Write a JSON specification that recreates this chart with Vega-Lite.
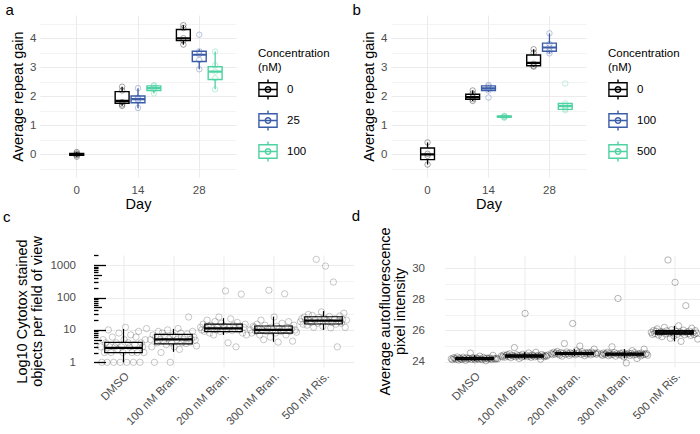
{
"$schema":"https://vega.github.io/schema/vega-lite/v6.json",
"padding":{"left":2,"top":3,"right":0,"bottom":0},
"config":{
 "font":"Liberation Sans",
 "view":{"stroke":null},
 "axis":{"domain":false,"ticks":false,"grid":true,"gridColor":"#EBEBEB","labelColor":"#4D4D4D","labelFontSize":11.5,"titleFontSize":14.5,"titleFontWeight":"normal","titleColor":"#000000","labelPadding":4,"titlePadding":4},
 "title":{"fontSize":15,"fontWeight":"normal","anchor":"start","frame":"bounds","color":"#000000"},
 "legend":{"titleFontWeight":"normal"}
},
"datasets":{
 "boxA":[
  {"Day":0,"Concentration":0,"lo":-0.08,"q1":-0.03,"med":0,"q3":0.03,"hi":0.08},
  {"Day":14,"Concentration":0,"lo":1.67,"q1":1.76,"med":1.84,"q3":2.16,"hi":2.33},
  {"Day":14,"Concentration":25,"lo":1.59,"q1":1.78,"med":1.9,"q3":2.01,"hi":2.28},
  {"Day":14,"Concentration":100,"lo":2.1,"q1":2.2,"med":2.28,"q3":2.36,"hi":2.39},
  {"Day":28,"Concentration":0,"lo":3.78,"q1":3.92,"med":4.0,"q3":4.3,"hi":4.45},
  {"Day":28,"Concentration":25,"lo":2.93,"q1":3.2,"med":3.43,"q3":3.55,"hi":3.62},
  {"Day":28,"Concentration":100,"lo":2.24,"q1":2.58,"med":2.85,"q3":3.02,"hi":3.54}
 ],
 "ptsA":[
  {"Day":0,"Concentration":0,"gain":-0.08},{"Day":0,"Concentration":0,"gain":-0.03},{"Day":0,"Concentration":0,"gain":0.0},{"Day":0,"Concentration":0,"gain":0.03},{"Day":0,"Concentration":0,"gain":0.08},
  {"Day":14,"Concentration":0,"gain":1.67},{"Day":14,"Concentration":0,"gain":1.72},{"Day":14,"Concentration":0,"gain":1.8},{"Day":14,"Concentration":0,"gain":2.2},{"Day":14,"Concentration":0,"gain":2.33},
  {"Day":14,"Concentration":25,"gain":1.6},{"Day":14,"Concentration":25,"gain":1.85},{"Day":14,"Concentration":25,"gain":1.9},{"Day":14,"Concentration":25,"gain":1.95},{"Day":14,"Concentration":25,"gain":2.28},
  {"Day":14,"Concentration":100,"gain":2.1},{"Day":14,"Concentration":100,"gain":2.25},{"Day":14,"Concentration":100,"gain":2.3},{"Day":14,"Concentration":100,"gain":2.36},{"Day":14,"Concentration":100,"gain":2.38},
  {"Day":28,"Concentration":0,"gain":3.78},{"Day":28,"Concentration":0,"gain":3.92},{"Day":28,"Concentration":0,"gain":4.0},{"Day":28,"Concentration":0,"gain":4.35},{"Day":28,"Concentration":0,"gain":4.45},
  {"Day":28,"Concentration":25,"gain":2.93},{"Day":28,"Concentration":25,"gain":3.25},{"Day":28,"Concentration":25,"gain":3.45},{"Day":28,"Concentration":25,"gain":3.55},{"Day":28,"Concentration":25,"gain":4.12},
  {"Day":28,"Concentration":100,"gain":2.24},{"Day":28,"Concentration":100,"gain":2.62},{"Day":28,"Concentration":100,"gain":2.85},{"Day":28,"Concentration":100,"gain":3.07},{"Day":28,"Concentration":100,"gain":3.54}
 ],
 "boxB":[
  {"Day":0,"Concentration":0,"lo":-0.35,"q1":-0.18,"med":0,"q3":0.22,"hi":0.41},
  {"Day":14,"Concentration":0,"lo":1.84,"q1":1.9,"med":1.97,"q3":2.07,"hi":2.2},
  {"Day":14,"Concentration":100,"lo":2.15,"q1":2.2,"med":2.27,"q3":2.36,"hi":2.39},
  {"Day":14,"Concentration":500,"lo":1.26,"q1":1.28,"med":1.3,"q3":1.32,"hi":1.34},
  {"Day":28,"Concentration":0,"lo":3.02,"q1":3.05,"med":3.15,"q3":3.42,"hi":3.62},
  {"Day":28,"Concentration":100,"lo":3.48,"q1":3.55,"med":3.68,"q3":3.83,"hi":4.17},
  {"Day":28,"Concentration":500,"lo":1.52,"q1":1.55,"med":1.66,"q3":1.75,"hi":1.78}
 ],
 "ptsB":[
  {"Day":0,"Concentration":0,"gain":-0.35},{"Day":0,"Concentration":0,"gain":-0.05},{"Day":0,"Concentration":0,"gain":0.02},{"Day":0,"Concentration":0,"gain":0.41},
  {"Day":14,"Concentration":0,"gain":1.84},{"Day":14,"Concentration":0,"gain":1.9},{"Day":14,"Concentration":0,"gain":1.97},{"Day":14,"Concentration":0,"gain":2.1},{"Day":14,"Concentration":0,"gain":2.2},
  {"Day":14,"Concentration":100,"gain":1.96},{"Day":14,"Concentration":100,"gain":2.2},{"Day":14,"Concentration":100,"gain":2.27},{"Day":14,"Concentration":100,"gain":2.34},{"Day":14,"Concentration":100,"gain":2.39},
  {"Day":14,"Concentration":500,"gain":1.26},{"Day":14,"Concentration":500,"gain":1.28},{"Day":14,"Concentration":500,"gain":1.3},{"Day":14,"Concentration":500,"gain":1.31},{"Day":14,"Concentration":500,"gain":1.33},
  {"Day":28,"Concentration":0,"gain":3.02},{"Day":28,"Concentration":0,"gain":3.05},{"Day":28,"Concentration":0,"gain":3.12},{"Day":28,"Concentration":0,"gain":3.5},{"Day":28,"Concentration":0,"gain":3.62},
  {"Day":28,"Concentration":100,"gain":3.48},{"Day":28,"Concentration":100,"gain":3.56},{"Day":28,"Concentration":100,"gain":3.68},{"Day":28,"Concentration":100,"gain":3.8},{"Day":28,"Concentration":100,"gain":4.17},
  {"Day":28,"Concentration":500,"gain":1.52},{"Day":28,"Concentration":500,"gain":1.57},{"Day":28,"Concentration":500,"gain":1.66},{"Day":28,"Concentration":500,"gain":1.75},{"Day":28,"Concentration":500,"gain":2.44}
 ],
 "boxC":[
  {"group":"DMSO","lo":1,"q1":2.0,"med":2.8,"q3":4.1,"hi":10.7},
  {"group":"100 nM Bran.","lo":2.1,"q1":3.7,"med":5.1,"q3":7.3,"hi":10.7},
  {"group":"200 nM Bran.","lo":7,"q1":8.8,"med":11.2,"q3":15,"hi":23},
  {"group":"300 nM Bran.","lo":4.3,"q1":7.9,"med":10,"q3":13.2,"hi":25.6},
  {"group":"500 nM Ris.","lo":10,"q1":15.2,"med":19.2,"q3":25.5,"hi":38}
 ],
 "ptsC":[
  {"group":"DMSO","count":3},{"group":"DMSO","count":1},{"group":"DMSO","count":5},{"group":"DMSO","count":2},{"group":"DMSO","count":4},{"group":"DMSO","count":1},{"group":"DMSO","count":10},{"group":"DMSO","count":3},{"group":"DMSO","count":2},{"group":"DMSO","count":6},{"group":"DMSO","count":1},{"group":"DMSO","count":3},{"group":"DMSO","count":4},{"group":"DMSO","count":2.5},{"group":"DMSO","count":8},{"group":"DMSO","count":1},{"group":"DMSO","count":3},{"group":"DMSO","count":2},{"group":"DMSO","count":5},{"group":"DMSO","count":12},{"group":"DMSO","count":1},{"group":"DMSO","count":4},{"group":"DMSO","count":3},{"group":"DMSO","count":7},{"group":"DMSO","count":2},{"group":"DMSO","count":1},{"group":"DMSO","count":3.5},{"group":"DMSO","count":6},{"group":"DMSO","count":2},{"group":"DMSO","count":9},{"group":"DMSO","count":1},{"group":"DMSO","count":4},{"group":"DMSO","count":3},{"group":"DMSO","count":2},{"group":"DMSO","count":5},{"group":"DMSO","count":11},
  {"group":"100 nM Bran.","count":5},{"group":"100 nM Bran.","count":3},{"group":"100 nM Bran.","count":7},{"group":"100 nM Bran.","count":1},{"group":"100 nM Bran.","count":6},{"group":"100 nM Bran.","count":4},{"group":"100 nM Bran.","count":9},{"group":"100 nM Bran.","count":5},{"group":"100 nM Bran.","count":2},{"group":"100 nM Bran.","count":8},{"group":"100 nM Bran.","count":4.5},{"group":"100 nM Bran.","count":6.5},{"group":"100 nM Bran.","count":3.5},{"group":"100 nM Bran.","count":10},{"group":"100 nM Bran.","count":5.5},{"group":"100 nM Bran.","count":1},{"group":"100 nM Bran.","count":4},{"group":"100 nM Bran.","count":7},{"group":"100 nM Bran.","count":3},{"group":"100 nM Bran.","count":6},{"group":"100 nM Bran.","count":5},{"group":"100 nM Bran.","count":11},{"group":"100 nM Bran.","count":2.5},{"group":"100 nM Bran.","count":8},{"group":"100 nM Bran.","count":4},{"group":"100 nM Bran.","count":5},{"group":"100 nM Bran.","count":6},{"group":"100 nM Bran.","count":3.8},{"group":"100 nM Bran.","count":7.5},{"group":"100 nM Bran.","count":25},{"group":"100 nM Bran.","count":4.2},{"group":"100 nM Bran.","count":5.2},{"group":"100 nM Bran.","count":9},{"group":"100 nM Bran.","count":6},{"group":"100 nM Bran.","count":4.8},{"group":"100 nM Bran.","count":3.2},
  {"group":"200 nM Bran.","count":12},{"group":"200 nM Bran.","count":10},{"group":"200 nM Bran.","count":15},{"group":"200 nM Bran.","count":9},{"group":"200 nM Bran.","count":11},{"group":"200 nM Bran.","count":20},{"group":"200 nM Bran.","count":13},{"group":"200 nM Bran.","count":8},{"group":"200 nM Bran.","count":14},{"group":"200 nM Bran.","count":11},{"group":"200 nM Bran.","count":7},{"group":"200 nM Bran.","count":18},{"group":"200 nM Bran.","count":10},{"group":"200 nM Bran.","count":12},{"group":"200 nM Bran.","count":25},{"group":"200 nM Bran.","count":9},{"group":"200 nM Bran.","count":16},{"group":"200 nM Bran.","count":11},{"group":"200 nM Bran.","count":13},{"group":"200 nM Bran.","count":160},{"group":"200 nM Bran.","count":10},{"group":"200 nM Bran.","count":4},{"group":"200 nM Bran.","count":12},{"group":"200 nM Bran.","count":22},{"group":"200 nM Bran.","count":9.5},{"group":"200 nM Bran.","count":14},{"group":"200 nM Bran.","count":11},{"group":"200 nM Bran.","count":3},{"group":"200 nM Bran.","count":17},{"group":"200 nM Bran.","count":10},{"group":"200 nM Bran.","count":13},{"group":"200 nM Bran.","count":127},{"group":"200 nM Bran.","count":8},{"group":"200 nM Bran.","count":12},{"group":"200 nM Bran.","count":15},{"group":"200 nM Bran.","count":7},
  {"group":"300 nM Bran.","count":10},{"group":"300 nM Bran.","count":8},{"group":"300 nM Bran.","count":13},{"group":"300 nM Bran.","count":12},{"group":"300 nM Bran.","count":9},{"group":"300 nM Bran.","count":15},{"group":"300 nM Bran.","count":11},{"group":"300 nM Bran.","count":7},{"group":"300 nM Bran.","count":20},{"group":"300 nM Bran.","count":10},{"group":"300 nM Bran.","count":5},{"group":"300 nM Bran.","count":14},{"group":"300 nM Bran.","count":9},{"group":"300 nM Bran.","count":11},{"group":"300 nM Bran.","count":168},{"group":"300 nM Bran.","count":6},{"group":"300 nM Bran.","count":12},{"group":"300 nM Bran.","count":10},{"group":"300 nM Bran.","count":25},{"group":"300 nM Bran.","count":8},{"group":"300 nM Bran.","count":13},{"group":"300 nM Bran.","count":4.2},{"group":"300 nM Bran.","count":11},{"group":"300 nM Bran.","count":9},{"group":"300 nM Bran.","count":16},{"group":"300 nM Bran.","count":10},{"group":"300 nM Bran.","count":130},{"group":"300 nM Bran.","count":7},{"group":"300 nM Bran.","count":12},{"group":"300 nM Bran.","count":18},{"group":"300 nM Bran.","count":9},{"group":"300 nM Bran.","count":11},{"group":"300 nM Bran.","count":4.5},{"group":"300 nM Bran.","count":14},{"group":"300 nM Bran.","count":10},{"group":"300 nM Bran.","count":8.5},
  {"group":"500 nM Ris.","count":18},{"group":"500 nM Ris.","count":22},{"group":"500 nM Ris.","count":15},{"group":"500 nM Ris.","count":25},{"group":"500 nM Ris.","count":20},{"group":"500 nM Ris.","count":14},{"group":"500 nM Ris.","count":30},{"group":"500 nM Ris.","count":19},{"group":"500 nM Ris.","count":17},{"group":"500 nM Ris.","count":28},{"group":"500 nM Ris.","count":12},{"group":"500 nM Ris.","count":21},{"group":"500 nM Ris.","count":1500},{"group":"500 nM Ris.","count":16},{"group":"500 nM Ris.","count":24},{"group":"500 nM Ris.","count":19},{"group":"500 nM Ris.","count":36},{"group":"500 nM Ris.","count":13},{"group":"500 nM Ris.","count":23},{"group":"500 nM Ris.","count":930},{"group":"500 nM Ris.","count":20},{"group":"500 nM Ris.","count":18},{"group":"500 nM Ris.","count":26},{"group":"500 nM Ris.","count":11.5},{"group":"500 nM Ris.","count":17},{"group":"500 nM Ris.","count":300},{"group":"500 nM Ris.","count":22},{"group":"500 nM Ris.","count":15},{"group":"500 nM Ris.","count":3},{"group":"500 nM Ris.","count":19},{"group":"500 nM Ris.","count":27},{"group":"500 nM Ris.","count":16},{"group":"500 nM Ris.","count":21},{"group":"500 nM Ris.","count":33},{"group":"500 nM Ris.","count":12},{"group":"500 nM Ris.","count":20}
 ],
 "boxD":[
  {"group":"DMSO","lo":24.05,"q1":24.13,"med":24.19,"q3":24.25,"hi":24.4},
  {"group":"100 nM Bran.","lo":24.15,"q1":24.29,"med":24.36,"q3":24.43,"hi":24.6},
  {"group":"200 nM Bran.","lo":24.35,"q1":24.46,"med":24.52,"q3":24.58,"hi":24.8},
  {"group":"300 nM Bran.","lo":24.2,"q1":24.41,"med":24.48,"q3":24.55,"hi":24.8},
  {"group":"500 nM Ris.","lo":25.3,"q1":25.76,"med":25.88,"q3":26.0,"hi":26.3}
 ],
 "ptsD":[
  {"group":"DMSO","intensity":24.18},{"group":"DMSO","intensity":24.12},{"group":"DMSO","intensity":24.25},{"group":"DMSO","intensity":24.2},{"group":"DMSO","intensity":24.15},{"group":"DMSO","intensity":24.3},{"group":"DMSO","intensity":24.1},{"group":"DMSO","intensity":24.22},{"group":"DMSO","intensity":24.17},{"group":"DMSO","intensity":24.13},{"group":"DMSO","intensity":24.28},{"group":"DMSO","intensity":24.19},{"group":"DMSO","intensity":24.08},{"group":"DMSO","intensity":24.24},{"group":"DMSO","intensity":24.16},{"group":"DMSO","intensity":24.21},{"group":"DMSO","intensity":24.55},{"group":"DMSO","intensity":24.14},{"group":"DMSO","intensity":24.26},{"group":"DMSO","intensity":24.18},{"group":"DMSO","intensity":24.11},{"group":"DMSO","intensity":24.23},{"group":"DMSO","intensity":24.2},{"group":"DMSO","intensity":24.15},{"group":"DMSO","intensity":24.35},{"group":"DMSO","intensity":24.17},{"group":"DMSO","intensity":24.12},{"group":"DMSO","intensity":24.27},{"group":"DMSO","intensity":24.19},{"group":"DMSO","intensity":24.05},{"group":"DMSO","intensity":24.22},{"group":"DMSO","intensity":24.16},{"group":"DMSO","intensity":24.24},{"group":"DMSO","intensity":24.18},{"group":"DMSO","intensity":24.13},{"group":"DMSO","intensity":24.4},{"group":"DMSO","intensity":24.2},{"group":"DMSO","intensity":24.15},{"group":"DMSO","intensity":24.21},{"group":"DMSO","intensity":24.17},
  {"group":"100 nM Bran.","intensity":24.36},{"group":"100 nM Bran.","intensity":24.3},{"group":"100 nM Bran.","intensity":24.42},{"group":"100 nM Bran.","intensity":24.28},{"group":"100 nM Bran.","intensity":24.38},{"group":"100 nM Bran.","intensity":24.45},{"group":"100 nM Bran.","intensity":24.33},{"group":"100 nM Bran.","intensity":24.5},{"group":"100 nM Bran.","intensity":24.25},{"group":"100 nM Bran.","intensity":24.4},{"group":"100 nM Bran.","intensity":24.35},{"group":"100 nM Bran.","intensity":24.9},{"group":"100 nM Bran.","intensity":24.31},{"group":"100 nM Bran.","intensity":24.44},{"group":"100 nM Bran.","intensity":24.37},{"group":"100 nM Bran.","intensity":24.2},{"group":"100 nM Bran.","intensity":24.39},{"group":"100 nM Bran.","intensity":24.29},{"group":"100 nM Bran.","intensity":24.47},{"group":"100 nM Bran.","intensity":24.34},{"group":"100 nM Bran.","intensity":27.1},{"group":"100 nM Bran.","intensity":24.41},{"group":"100 nM Bran.","intensity":24.32},{"group":"100 nM Bran.","intensity":24.55},{"group":"100 nM Bran.","intensity":24.36},{"group":"100 nM Bran.","intensity":24.27},{"group":"100 nM Bran.","intensity":24.43},{"group":"100 nM Bran.","intensity":24.38},{"group":"100 nM Bran.","intensity":24.3},{"group":"100 nM Bran.","intensity":24.6},{"group":"100 nM Bran.","intensity":24.35},{"group":"100 nM Bran.","intensity":24.4},{"group":"100 nM Bran.","intensity":24.33},{"group":"100 nM Bran.","intensity":24.15},{"group":"100 nM Bran.","intensity":24.46},{"group":"100 nM Bran.","intensity":24.37},{"group":"100 nM Bran.","intensity":24.31},{"group":"100 nM Bran.","intensity":24.39},{"group":"100 nM Bran.","intensity":24.34},{"group":"100 nM Bran.","intensity":24.42},
  {"group":"200 nM Bran.","intensity":24.52},{"group":"200 nM Bran.","intensity":24.45},{"group":"200 nM Bran.","intensity":24.6},{"group":"200 nM Bran.","intensity":24.48},{"group":"200 nM Bran.","intensity":24.55},{"group":"200 nM Bran.","intensity":24.65},{"group":"200 nM Bran.","intensity":24.5},{"group":"200 nM Bran.","intensity":24.42},{"group":"200 nM Bran.","intensity":24.58},{"group":"200 nM Bran.","intensity":24.35},{"group":"200 nM Bran.","intensity":24.53},{"group":"200 nM Bran.","intensity":25.16},{"group":"200 nM Bran.","intensity":24.47},{"group":"200 nM Bran.","intensity":24.62},{"group":"200 nM Bran.","intensity":24.51},{"group":"200 nM Bran.","intensity":24.4},{"group":"200 nM Bran.","intensity":24.56},{"group":"200 nM Bran.","intensity":24.49},{"group":"200 nM Bran.","intensity":26.45},{"group":"200 nM Bran.","intensity":24.54},{"group":"200 nM Bran.","intensity":24.44},{"group":"200 nM Bran.","intensity":24.7},{"group":"200 nM Bran.","intensity":24.5},{"group":"200 nM Bran.","intensity":24.57},{"group":"200 nM Bran.","intensity":25.0},{"group":"200 nM Bran.","intensity":24.46},{"group":"200 nM Bran.","intensity":24.63},{"group":"200 nM Bran.","intensity":24.52},{"group":"200 nM Bran.","intensity":24.38},{"group":"200 nM Bran.","intensity":24.55},{"group":"200 nM Bran.","intensity":24.48},{"group":"200 nM Bran.","intensity":24.59},{"group":"200 nM Bran.","intensity":24.53},{"group":"200 nM Bran.","intensity":24.43},{"group":"200 nM Bran.","intensity":24.61},{"group":"200 nM Bran.","intensity":24.5},{"group":"200 nM Bran.","intensity":24.8},{"group":"200 nM Bran.","intensity":24.54},{"group":"200 nM Bran.","intensity":24.47},{"group":"200 nM Bran.","intensity":24.56},
  {"group":"300 nM Bran.","intensity":24.48},{"group":"300 nM Bran.","intensity":24.4},{"group":"300 nM Bran.","intensity":24.55},{"group":"300 nM Bran.","intensity":24.45},{"group":"300 nM Bran.","intensity":24.5},{"group":"300 nM Bran.","intensity":24.6},{"group":"300 nM Bran.","intensity":24.38},{"group":"300 nM Bran.","intensity":24.52},{"group":"300 nM Bran.","intensity":24.43},{"group":"300 nM Bran.","intensity":24.95},{"group":"300 nM Bran.","intensity":24.47},{"group":"300 nM Bran.","intensity":24.58},{"group":"300 nM Bran.","intensity":24.35},{"group":"300 nM Bran.","intensity":24.5},{"group":"300 nM Bran.","intensity":28.06},{"group":"300 nM Bran.","intensity":24.44},{"group":"300 nM Bran.","intensity":24.53},{"group":"300 nM Bran.","intensity":24.41},{"group":"300 nM Bran.","intensity":24.56},{"group":"300 nM Bran.","intensity":24.3},{"group":"300 nM Bran.","intensity":24.49},{"group":"300 nM Bran.","intensity":23.91},{"group":"300 nM Bran.","intensity":24.46},{"group":"300 nM Bran.","intensity":24.54},{"group":"300 nM Bran.","intensity":24.39},{"group":"300 nM Bran.","intensity":24.51},{"group":"300 nM Bran.","intensity":24.7},{"group":"300 nM Bran.","intensity":24.42},{"group":"300 nM Bran.","intensity":24.57},{"group":"300 nM Bran.","intensity":24.45},{"group":"300 nM Bran.","intensity":24.2},{"group":"300 nM Bran.","intensity":24.5},{"group":"300 nM Bran.","intensity":24.48},{"group":"300 nM Bran.","intensity":24.36},{"group":"300 nM Bran.","intensity":24.55},{"group":"300 nM Bran.","intensity":24.44},{"group":"300 nM Bran.","intensity":24.8},{"group":"300 nM Bran.","intensity":24.47},{"group":"300 nM Bran.","intensity":24.52},{"group":"300 nM Bran.","intensity":24.41},
  {"group":"500 nM Ris.","intensity":25.88},{"group":"500 nM Ris.","intensity":25.75},{"group":"500 nM Ris.","intensity":26.0},{"group":"500 nM Ris.","intensity":25.8},{"group":"500 nM Ris.","intensity":25.95},{"group":"500 nM Ris.","intensity":26.1},{"group":"500 nM Ris.","intensity":25.7},{"group":"500 nM Ris.","intensity":25.85},{"group":"500 nM Ris.","intensity":25.92},{"group":"500 nM Ris.","intensity":25.6},{"group":"500 nM Ris.","intensity":25.9},{"group":"500 nM Ris.","intensity":26.2},{"group":"500 nM Ris.","intensity":25.78},{"group":"500 nM Ris.","intensity":25.98},{"group":"500 nM Ris.","intensity":30.54},{"group":"500 nM Ris.","intensity":25.82},{"group":"500 nM Ris.","intensity":25.5},{"group":"500 nM Ris.","intensity":26.05},{"group":"500 nM Ris.","intensity":25.87},{"group":"500 nM Ris.","intensity":25.65},{"group":"500 nM Ris.","intensity":29.1},{"group":"500 nM Ris.","intensity":25.93},{"group":"500 nM Ris.","intensity":25.76},{"group":"500 nM Ris.","intensity":26.3},{"group":"500 nM Ris.","intensity":25.89},{"group":"500 nM Ris.","intensity":25.3},{"group":"500 nM Ris.","intensity":25.84},{"group":"500 nM Ris.","intensity":26.02},{"group":"500 nM Ris.","intensity":25.72},{"group":"500 nM Ris.","intensity":27.6},{"group":"500 nM Ris.","intensity":25.9},{"group":"500 nM Ris.","intensity":25.8},{"group":"500 nM Ris.","intensity":25.96},{"group":"500 nM Ris.","intensity":25.68},{"group":"500 nM Ris.","intensity":26.15},{"group":"500 nM Ris.","intensity":25.86},{"group":"500 nM Ris.","intensity":25.74},{"group":"500 nM Ris.","intensity":25.99},{"group":"500 nM Ris.","intensity":25.83},{"group":"500 nM Ris.","intensity":25.45}
 ]
},
"spacing":-3,
"columns":1,
"align":"none",
"resolve":{"scale":{"x":"independent","y":"independent","stroke":"independent","xOffset":"independent"},"legend":{"stroke":"independent"}},
"concat":[
 {"hconcat":[
  {"width":196,"height":162,
   "title":{"text":"a","dx":-5,"offset":-3},
   "encoding":{
    "x":{"field":"Day","type":"ordinal","scale":{"domain":[0,14,28],"paddingInner":0,"paddingOuter":0.1},"axis":{"title":"Day","labelAngle":0,"bandPosition":0.5,"labelPadding":7,"titlePadding":2}},
    "stroke":{"field":"Concentration","type":"nominal","scale":{"domain":[0,25,100],"range":["#000000","#3B5CA8","#4ED2A3"]},
     "legend":{"title":["Concentration","(nM)"],"orient":"none","legendX":218,"legendY":33,"symbolType":"M-1,-0.75H1V0.75H-1ZM-1,0H1M0,-0.75V-1.1M0,0.75V1.1M0.3,0A0.3,0.3,0,1,1,-0.3,0A0.3,0.3,0,1,1,0.3,0","symbolSize":330,"symbolStrokeWidth":1.4,"symbolFillColor":"transparent","symbolOpacity":1,"rowPadding":5,"labelOffset":9,"titlePadding":6,"titleFontSize":11.5,"labelFontSize":11.5,"titleLineHeight":14,"labelColor":"#000000","titleColor":"#000000"}}
   },
   "layer":[
    {"data":{"name":"boxA"},"transform":[{"filter":"datum.Day > 0"}],"mark":{"type":"rule","strokeWidth":1.3},
     "encoding":{"xOffset":{"field":"Concentration","type":"nominal","scale":{"domain":[0,25,100],"paddingInner":0.125,"paddingOuter":0.49}},
      "y":{"field":"lo","type":"quantitative","scale":{"domain":[-0.78,4.8],"nice":false,"zero":false},"axis":{"title":"Average repeat gain","values":[-0.5,0,0.5,1,1.5,2,2.5,3,3.5,4,4.5],"labelExpr":"datum.value % 1 === 0 ? format(datum.value, 'd') : ''","gridWidth":{"condition":{"test":"datum.value % 1 !== 0","value":0.6},"value":1.1}}},
      "y2":{"field":"hi"}}},
    {"data":{"name":"boxA"},"transform":[{"filter":"datum.Day > 0"}],"mark":{"type":"bar","fill":"white","strokeWidth":1.4},
     "encoding":{"xOffset":{"field":"Concentration","type":"nominal","scale":{"domain":[0,25,100],"paddingInner":0.125,"paddingOuter":0.49}},
      "y":{"field":"q1","type":"quantitative","scale":{"domain":[-0.78,4.8],"nice":false,"zero":false},"axis":{"title":"Average repeat gain","values":[-0.5,0,0.5,1,1.5,2,2.5,3,3.5,4,4.5],"labelExpr":"datum.value % 1 === 0 ? format(datum.value, 'd') : ''","gridWidth":{"condition":{"test":"datum.value % 1 !== 0","value":0.6},"value":1.1}}},
      "y2":{"field":"q3"}}},
    {"data":{"name":"boxA"},"transform":[{"filter":"datum.Day > 0"}],"mark":{"type":"bar","fill":"white","strokeWidth":2.2},
     "encoding":{"xOffset":{"field":"Concentration","type":"nominal","scale":{"domain":[0,25,100],"paddingInner":0.125,"paddingOuter":0.49}},
      "y":{"field":"med","type":"quantitative","scale":{"domain":[-0.78,4.8],"nice":false,"zero":false},"axis":{"title":"Average repeat gain","values":[-0.5,0,0.5,1,1.5,2,2.5,3,3.5,4,4.5],"labelExpr":"datum.value % 1 === 0 ? format(datum.value, 'd') : ''","gridWidth":{"condition":{"test":"datum.value % 1 !== 0","value":0.6},"value":1.1}}},
      "y2":{"field":"med"}}},
    {"data":{"name":"ptsA"},"transform":[{"filter":"datum.Day > 0"}],"mark":{"type":"point","shape":"circle","filled":false,"strokeOpacity":0.5,"size":30,"strokeWidth":1},
     "encoding":{"xOffset":{"field":"Concentration","type":"nominal","scale":{"domain":[0,25,100],"paddingInner":0.125,"paddingOuter":0.49}},
      "y":{"field":"gain","type":"quantitative","scale":{"domain":[-0.78,4.8],"nice":false,"zero":false},"axis":{"title":"Average repeat gain","values":[-0.5,0,0.5,1,1.5,2,2.5,3,3.5,4,4.5],"labelExpr":"datum.value % 1 === 0 ? format(datum.value, 'd') : ''","gridWidth":{"condition":{"test":"datum.value % 1 !== 0","value":0.6},"value":1.1}}}}},
    {"data":{"name":"boxA"},"transform":[{"filter":"datum.Day == 0"}],"mark":{"type":"rule","strokeWidth":1.3},
     "encoding":{
      "y":{"field":"lo","type":"quantitative","scale":{"domain":[-0.78,4.8],"nice":false,"zero":false},"axis":{"title":"Average repeat gain","values":[-0.5,0,0.5,1,1.5,2,2.5,3,3.5,4,4.5],"labelExpr":"datum.value % 1 === 0 ? format(datum.value, 'd') : ''","gridWidth":{"condition":{"test":"datum.value % 1 !== 0","value":0.6},"value":1.1}}},
      "y2":{"field":"hi"}}},
    {"data":{"name":"boxA"},"transform":[{"filter":"datum.Day == 0"}],"mark":{"type":"bar","fill":"white","strokeWidth":1.4,"width":{"band":0.227}},
     "encoding":{
      "y":{"field":"q1","type":"quantitative","scale":{"domain":[-0.78,4.8],"nice":false,"zero":false},"axis":{"title":"Average repeat gain","values":[-0.5,0,0.5,1,1.5,2,2.5,3,3.5,4,4.5],"labelExpr":"datum.value % 1 === 0 ? format(datum.value, 'd') : ''","gridWidth":{"condition":{"test":"datum.value % 1 !== 0","value":0.6},"value":1.1}}},
      "y2":{"field":"q3"}}},
    {"data":{"name":"boxA"},"transform":[{"filter":"datum.Day == 0"}],"mark":{"type":"bar","fill":"white","strokeWidth":2.2,"width":{"band":0.227}},
     "encoding":{
      "y":{"field":"med","type":"quantitative","scale":{"domain":[-0.78,4.8],"nice":false,"zero":false},"axis":{"title":"Average repeat gain","values":[-0.5,0,0.5,1,1.5,2,2.5,3,3.5,4,4.5],"labelExpr":"datum.value % 1 === 0 ? format(datum.value, 'd') : ''","gridWidth":{"condition":{"test":"datum.value % 1 !== 0","value":0.6},"value":1.1}}},
      "y2":{"field":"med"}}},
    {"data":{"name":"ptsA"},"transform":[{"filter":"datum.Day == 0"}],"mark":{"type":"point","shape":"circle","filled":false,"strokeOpacity":0.5,"size":30,"strokeWidth":1},
     "encoding":{
      "y":{"field":"gain","type":"quantitative","scale":{"domain":[-0.78,4.8],"nice":false,"zero":false},"axis":{"title":"Average repeat gain","values":[-0.5,0,0.5,1,1.5,2,2.5,3,3.5,4,4.5],"labelExpr":"datum.value % 1 === 0 ? format(datum.value, 'd') : ''","gridWidth":{"condition":{"test":"datum.value % 1 !== 0","value":0.6},"value":1.1}}}}}
   ]
  },
  {"width":195,"height":162,
   "title":{"text":"b","dx":-9,"offset":-3},
   "encoding":{
    "x":{"field":"Day","type":"ordinal","scale":{"domain":[0,14,28],"paddingInner":0,"paddingOuter":0.1},"axis":{"title":"Day","labelAngle":0,"bandPosition":0.5,"labelPadding":7,"titlePadding":2}},
    "stroke":{"field":"Concentration","type":"nominal","scale":{"domain":[0,100,500],"range":["#000000","#3B5CA8","#4ED2A3"]},
     "legend":{"title":["Concentration","(nM)"],"orient":"none","legendX":217,"legendY":33,"symbolType":"M-1,-0.75H1V0.75H-1ZM-1,0H1M0,-0.75V-1.1M0,0.75V1.1M0.3,0A0.3,0.3,0,1,1,-0.3,0A0.3,0.3,0,1,1,0.3,0","symbolSize":330,"symbolStrokeWidth":1.4,"symbolFillColor":"transparent","symbolOpacity":1,"rowPadding":5,"labelOffset":9,"titlePadding":6,"titleFontSize":11.5,"labelFontSize":11.5,"titleLineHeight":14,"labelColor":"#000000","titleColor":"#000000"}}
   },
   "layer":[
    {"data":{"name":"boxB"},"transform":[{"filter":"datum.Day > 0"}],"mark":{"type":"rule","strokeWidth":1.3},
     "encoding":{"xOffset":{"field":"Concentration","type":"nominal","scale":{"domain":[0,100,500],"paddingInner":0.125,"paddingOuter":0.49}},
      "y":{"field":"lo","type":"quantitative","scale":{"domain":[-0.78,4.8],"nice":false,"zero":false},"axis":{"title":"Average repeat gain","values":[-0.5,0,0.5,1,1.5,2,2.5,3,3.5,4,4.5],"labelExpr":"datum.value % 1 === 0 ? format(datum.value, 'd') : ''","gridWidth":{"condition":{"test":"datum.value % 1 !== 0","value":0.6},"value":1.1}}},
      "y2":{"field":"hi"}}},
    {"data":{"name":"boxB"},"transform":[{"filter":"datum.Day > 0"}],"mark":{"type":"bar","fill":"white","strokeWidth":1.4},
     "encoding":{"xOffset":{"field":"Concentration","type":"nominal","scale":{"domain":[0,100,500],"paddingInner":0.125,"paddingOuter":0.49}},
      "y":{"field":"q1","type":"quantitative","scale":{"domain":[-0.78,4.8],"nice":false,"zero":false},"axis":{"title":"Average repeat gain","values":[-0.5,0,0.5,1,1.5,2,2.5,3,3.5,4,4.5],"labelExpr":"datum.value % 1 === 0 ? format(datum.value, 'd') : ''","gridWidth":{"condition":{"test":"datum.value % 1 !== 0","value":0.6},"value":1.1}}},
      "y2":{"field":"q3"}}},
    {"data":{"name":"boxB"},"transform":[{"filter":"datum.Day > 0"}],"mark":{"type":"bar","fill":"white","strokeWidth":2.2},
     "encoding":{"xOffset":{"field":"Concentration","type":"nominal","scale":{"domain":[0,100,500],"paddingInner":0.125,"paddingOuter":0.49}},
      "y":{"field":"med","type":"quantitative","scale":{"domain":[-0.78,4.8],"nice":false,"zero":false},"axis":{"title":"Average repeat gain","values":[-0.5,0,0.5,1,1.5,2,2.5,3,3.5,4,4.5],"labelExpr":"datum.value % 1 === 0 ? format(datum.value, 'd') : ''","gridWidth":{"condition":{"test":"datum.value % 1 !== 0","value":0.6},"value":1.1}}},
      "y2":{"field":"med"}}},
    {"data":{"name":"ptsB"},"transform":[{"filter":"datum.Day > 0"}],"mark":{"type":"point","shape":"circle","filled":false,"strokeOpacity":0.5,"size":30,"strokeWidth":1},
     "encoding":{"xOffset":{"field":"Concentration","type":"nominal","scale":{"domain":[0,100,500],"paddingInner":0.125,"paddingOuter":0.49}},
      "y":{"field":"gain","type":"quantitative","scale":{"domain":[-0.78,4.8],"nice":false,"zero":false},"axis":{"title":"Average repeat gain","values":[-0.5,0,0.5,1,1.5,2,2.5,3,3.5,4,4.5],"labelExpr":"datum.value % 1 === 0 ? format(datum.value, 'd') : ''","gridWidth":{"condition":{"test":"datum.value % 1 !== 0","value":0.6},"value":1.1}}}}},
    {"data":{"name":"boxB"},"transform":[{"filter":"datum.Day == 0"}],"mark":{"type":"rule","strokeWidth":1.3},
     "encoding":{
      "y":{"field":"lo","type":"quantitative","scale":{"domain":[-0.78,4.8],"nice":false,"zero":false},"axis":{"title":"Average repeat gain","values":[-0.5,0,0.5,1,1.5,2,2.5,3,3.5,4,4.5],"labelExpr":"datum.value % 1 === 0 ? format(datum.value, 'd') : ''","gridWidth":{"condition":{"test":"datum.value % 1 !== 0","value":0.6},"value":1.1}}},
      "y2":{"field":"hi"}}},
    {"data":{"name":"boxB"},"transform":[{"filter":"datum.Day == 0"}],"mark":{"type":"bar","fill":"white","strokeWidth":1.4,"width":{"band":0.227}},
     "encoding":{
      "y":{"field":"q1","type":"quantitative","scale":{"domain":[-0.78,4.8],"nice":false,"zero":false},"axis":{"title":"Average repeat gain","values":[-0.5,0,0.5,1,1.5,2,2.5,3,3.5,4,4.5],"labelExpr":"datum.value % 1 === 0 ? format(datum.value, 'd') : ''","gridWidth":{"condition":{"test":"datum.value % 1 !== 0","value":0.6},"value":1.1}}},
      "y2":{"field":"q3"}}},
    {"data":{"name":"boxB"},"transform":[{"filter":"datum.Day == 0"}],"mark":{"type":"bar","fill":"white","strokeWidth":2.2,"width":{"band":0.227}},
     "encoding":{
      "y":{"field":"med","type":"quantitative","scale":{"domain":[-0.78,4.8],"nice":false,"zero":false},"axis":{"title":"Average repeat gain","values":[-0.5,0,0.5,1,1.5,2,2.5,3,3.5,4,4.5],"labelExpr":"datum.value % 1 === 0 ? format(datum.value, 'd') : ''","gridWidth":{"condition":{"test":"datum.value % 1 !== 0","value":0.6},"value":1.1}}},
      "y2":{"field":"med"}}},
    {"data":{"name":"ptsB"},"transform":[{"filter":"datum.Day == 0"}],"mark":{"type":"point","shape":"circle","filled":false,"strokeOpacity":0.5,"size":30,"strokeWidth":1},
     "encoding":{
      "y":{"field":"gain","type":"quantitative","scale":{"domain":[-0.78,4.8],"nice":false,"zero":false},"axis":{"title":"Average repeat gain","values":[-0.5,0,0.5,1,1.5,2,2.5,3,3.5,4,4.5],"labelExpr":"datum.value % 1 === 0 ? format(datum.value, 'd') : ''","gridWidth":{"condition":{"test":"datum.value % 1 !== 0","value":0.6},"value":1.1}}}}}
   ]
  }
 ],"spacing":22,
 "resolve":{"scale":{"x":"independent","y":"independent","stroke":"independent","xOffset":"independent"},"legend":{"stroke":"independent"}}},
 {"hconcat":[
  {"width":1,"height":1,"data":{"values":[{}]},"mark":{"type":"text","text":""},"encoding":{}},
  {"hconcat":[
   {"width":260,"height":112,
    "title":{"text":"c","dx":-12,"offset":11},
    "resolve":{"axis":{"y":"independent"}},
    "encoding":{"x":{"field":"group","type":"nominal","scale":{"domain":["DMSO","100 nM Bran.","200 nM Bran.","300 nM Bran.","500 nM Ris."],"paddingInner":0,"paddingOuter":0.1},"axis":{"title":null,"labelAngle":-45,"bandPosition":0.5,"labelPadding":3}}},
    "layer":[
     {"data":{"name":"boxC"},"mark":{"type":"rule","color":"#000000","strokeWidth":1.2},
      "encoding":{
       "y":{"field":"lo","type":"quantitative","scale":{"type":"log","domain":[0.716,2050],"nice":false},"axis":{"orient":"left","title":["Log10 Cytotox stained","objects per field of view"],"titleLineHeight":15,"values":[1,3.162,10,31.62,100,316.2,1000],"labelExpr":"indexof([1,10,100,1000], datum.value) >= 0 ? format(datum.value, 'd') : ''","gridWidth":{"condition":{"test":"indexof([3.162,31.62,316.2], datum.value) >= 0","value":0.6},"value":1.1},"labelPadding":18,"titlePadding":5}},
       "y2":{"field":"hi"}}},
     {"data":{"name":"boxC"},"mark":{"type":"bar","fill":"white","stroke":"#000000","strokeWidth":1.2,"width":{"band":0.75}},
      "encoding":{
       "y":{"field":"q1","type":"quantitative","scale":{"type":"log","domain":[0.716,2050],"nice":false},"axis":{"orient":"left","title":null,"values":[1,10,100,1000],"labels":false,"grid":false,"ticks":true,"tickSize":-12,"tickColor":"#000000","tickWidth":1.3}},
       "y2":{"field":"q3"}}},
     {"data":{"name":"boxC"},"mark":{"type":"bar","fill":"white","stroke":"#000000","strokeWidth":2.2,"width":{"band":0.75}},
      "encoding":{
       "y":{"field":"med","type":"quantitative","scale":{"type":"log","domain":[0.716,2050],"nice":false},"axis":{"orient":"left","title":null,"values":[5,50,500],"labels":false,"grid":false,"ticks":true,"tickSize":-8,"tickColor":"#000000","tickWidth":1.3}},
       "y2":{"field":"med"}}},
     {"data":{"name":"ptsC"},"transform":[{"window":[{"op":"row_number","as":"rep"}],"groupby":["group"]}],
      "mark":{"type":"point","shape":"circle","filled":false,"stroke":"#000000","strokeOpacity":0.3,"size":40,"strokeWidth":1},
      "encoding":{"xOffset":{"field":"rep","type":"ordinal","scale":{"type":"band","paddingInner":0,"paddingOuter":3.875}},
       "y":{"field":"count","type":"quantitative","scale":{"type":"log","domain":[0.716,2050],"nice":false},"axis":{"orient":"left","title":null,"values":[2,3,4,6,7,8,9,20,30,40,60,70,80,90,200,300,400,600,700,800,900,2000],"labels":false,"grid":false,"ticks":true,"tickSize":-4.5,"tickColor":"#000000","tickWidth":1.3}}}}
    ]
   },
   {"width":260,"height":112,
    "title":{"text":"d","dx":-26,"offset":3},
    "encoding":{"x":{"field":"group","type":"nominal","scale":{"domain":["DMSO","100 nM Bran.","200 nM Bran.","300 nM Bran.","500 nM Ris."],"paddingInner":0,"paddingOuter":0.1},"axis":{"title":null,"labelAngle":-45,"bandPosition":0.5,"labelPadding":3}}},
    "layer":[
     {"data":{"name":"boxD"},"mark":{"type":"rule","color":"#000000","strokeWidth":1.2},
      "encoding":{
       "y":{"field":"lo","type":"quantitative","scale":{"domain":[23.65,30.86],"nice":false,"zero":false},"axis":{"title":["Average autofluorescence","pixel intensity"],"titleLineHeight":15,"values":[24,25,26,27,28,29,30],"labelExpr":"datum.value % 2 === 0 ? datum.label : ''","gridWidth":{"condition":{"test":"datum.value % 2 !== 0","value":0.6},"value":1.1},"labelPadding":20,"titlePadding":4}},
       "y2":{"field":"hi"}}},
     {"data":{"name":"boxD"},"mark":{"type":"bar","fill":"#1A1A1A","stroke":"#000000","strokeWidth":1.2,"width":{"band":0.75}},
      "encoding":{
       "y":{"field":"q1","type":"quantitative","scale":{"domain":[23.65,30.86],"nice":false,"zero":false},"axis":{"title":["Average autofluorescence","pixel intensity"],"titleLineHeight":15,"values":[24,25,26,27,28,29,30],"labelExpr":"datum.value % 2 === 0 ? datum.label : ''","gridWidth":{"condition":{"test":"datum.value % 2 !== 0","value":0.6},"value":1.1},"labelPadding":20,"titlePadding":4}},
       "y2":{"field":"q3"}}},
     {"data":{"name":"ptsD"},"transform":[{"window":[{"op":"row_number","as":"rep"}],"groupby":["group"]}],
      "mark":{"type":"point","shape":"circle","filled":false,"stroke":"#000000","strokeOpacity":0.4,"size":40,"strokeWidth":1},
      "encoding":{"xOffset":{"field":"rep","type":"ordinal","scale":{"type":"band","paddingInner":0,"paddingOuter":4.375}},
       "y":{"field":"intensity","type":"quantitative","scale":{"domain":[23.65,30.86],"nice":false,"zero":false},"axis":{"title":["Average autofluorescence","pixel intensity"],"titleLineHeight":15,"values":[24,25,26,27,28,29,30],"labelExpr":"datum.value % 2 === 0 ? datum.label : ''","gridWidth":{"condition":{"test":"datum.value % 2 !== 0","value":0.6},"value":1.1},"labelPadding":20,"titlePadding":4}}}}
    ]
   }
  ],"spacing":-2,
  "resolve":{"scale":{"x":"independent","y":"independent","xOffset":"independent"}}}
 ],"spacing":-38.5,
 "resolve":{"scale":{"x":"independent","y":"independent","xOffset":"independent"}}}
]
}
